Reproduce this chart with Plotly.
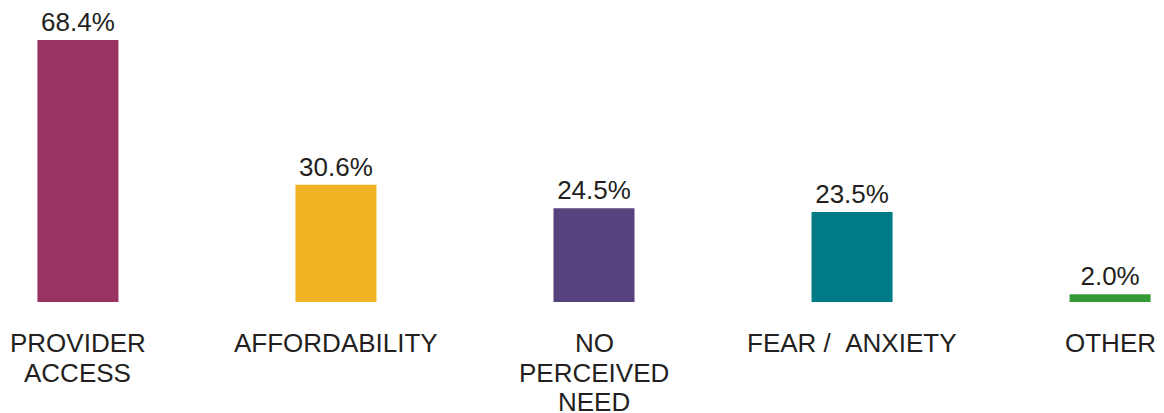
import plotly.graph_objects as go

categories = ["PROVIDER ACCESS", "AFFORDABILITY", "NO PERCEIVED NEED", "FEAR /  ANXIETY", "OTHER"]
label_lines = [["PROVIDER", "ACCESS"], ["AFFORDABILITY"], ["NO", "PERCEIVED", "NEED"], ["FEAR /  ANXIETY"], ["OTHER"]]
values = [68.4, 30.6, 24.5, 23.5, 2.0]
colors = ["#993462", "#F0B323", "#56427C", "#007A85", "#339A35"]

FONT = "Arial, Liberation Sans, sans-serif"
TXT = "#231F20"

fig = go.Figure()
fig.add_trace(go.Bar(
    x=categories, y=values,
    marker=dict(color=colors, line=dict(width=0)),
    text=[f"{v:.1f}%" for v in values],
    textposition="outside",
    textfont=dict(family=FONT, size=26, color=TXT),
    cliponaxis=False,
    hoverinfo="skip",
))

annotations = []
for cat, lines in zip(categories, label_lines):
    for i, line in enumerate(lines):
        annotations.append(dict(
            x=cat, y=0, xref="x", yref="y",
            text=line.replace("  ", " \u00a0"),
            showarrow=False, yanchor="top", xanchor="center",
            yshift=-24 - i * 29.5,
            font=dict(family=FONT, size=26, color=TXT),
        ))

fig.update_layout(
    width=1164, height=413,
    margin=dict(l=0, r=0, t=0, b=111),
    paper_bgcolor="white", plot_bgcolor="white",
    bargap=0.686,
    showlegend=False,
    annotations=annotations,
    xaxis=dict(type="category", range=[-0.302, 4.209], showticklabels=False,
               showgrid=False, zeroline=False, showline=False, ticks=""),
    yaxis=dict(range=[0, 78.85], visible=False, showgrid=False, zeroline=False),
)

fig.write_html("out.html", config={"displayModeBar": False},
               post_script="document.body.style.margin='0';document.body.style.overflow='hidden';")
